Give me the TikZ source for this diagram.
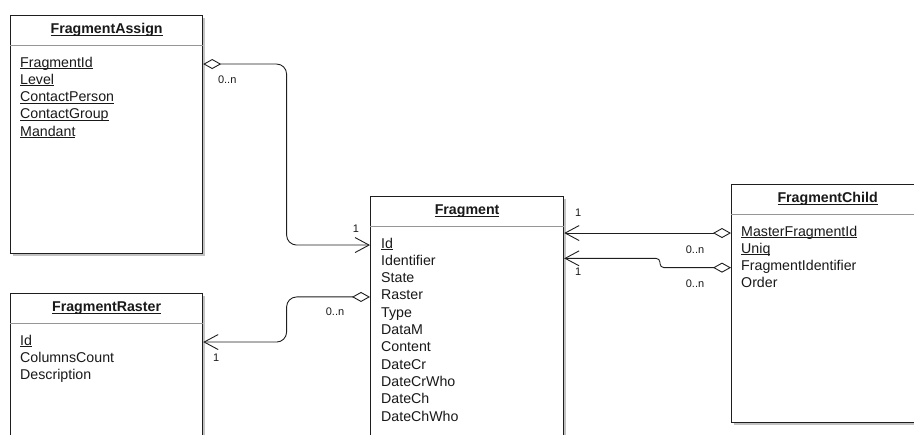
\documentclass[tikz,border=0pt]{standalone}
\usepackage{fontspec}
\setmainfont{Liberation Sans}
\usetikzlibrary{positioning,arrows.meta,calc,shadows}
\definecolor{BoxLine}{RGB}{30,30,30}
\definecolor{SepGray}{RGB}{150,150,150}
\definecolor{TextDark}{RGB}{25,25,25}
\newcommand\keyline[1]{\setbox0\hbox{#1}\rlap{\rule[-1.8pt]{\wd0}{0.75pt}}\box0}
\tikzset{
  entity/.style={draw=BoxLine,line width=1.2pt,fill=white,anchor=north west,inner sep=0pt,
    drop shadow={shadow xshift=2.5pt,shadow yshift=-2.5pt,fill=black!40,opacity=0.6}},
  classname/.style={minimum height=30pt,inner sep=0pt,text=TextDark,
    font=\fontsize{14.2}{17}\selectfont\bfseries},
  sepline/.style={draw=SepGray,line width=0.8pt},
  attr/.style={inner sep=0pt,text height=11.5pt,text depth=5.4pt,text=TextDark,
    font=\fontsize{14.2}{17}\selectfont},
  nextattr/.style={attr,below=0pt of #1.south west,anchor=north west},
  aggr/.style={{Diamond[open,length=18pt,width=10pt]}-{Straight Barb[length=14pt,width=15pt]},
    line width=0.9pt,draw=BoxLine,rounded corners=10pt},
  mult/.style={inner sep=0pt,text=TextDark,font=\fontsize{11}{13}\selectfont}
}
\begin{document}
\begin{tikzpicture}[x=1pt,y=-1pt]
  \useasboundingbox (0,0) rectangle (914,435);
  \clip (0,0) rectangle (914,435);

  % FragmentAssign
  \node[entity,minimum width=192pt,minimum height=238pt] (assign) at (10,15) {};
  \node[classname,below=0pt of assign.north] (assignName) {\keyline{FragmentAssign}};
  \coordinate (assignSep) at (assignName.south -| assign.west);
  \draw[sepline] (assignSep) -- (assignSep -| assign.east);
  \node[attr,below right=10pt and 10pt of assignSep] (assignFid) {\keyline{FragmentId}};
  \node[nextattr=assignFid] (assignLevel) {\keyline{Level}};
  \node[nextattr=assignLevel] (assignPerson) {\keyline{ContactPerson}};
  \node[nextattr=assignPerson] (assignGroup) {\keyline{ContactGroup}};
  \node[nextattr=assignGroup] (assignMandant) {\keyline{Mandant}};

  % FragmentRaster
  \node[entity,minimum width=192pt,minimum height=170pt] (raster) at (10,293) {};
  \node[classname,below=0pt of raster.north] (rasterName) {\keyline{FragmentRaster}};
  \coordinate (rasterSep) at (rasterName.south -| raster.west);
  \draw[sepline] (rasterSep) -- (rasterSep -| raster.east);
  \node[attr,below right=10pt and 10pt of rasterSep] (rasterId) {\keyline{Id}};
  \node[nextattr=rasterId] (rasterCols) {ColumnsCount};
  \node[nextattr=rasterCols] (rasterDesc) {Description};

  % Fragment
  \node[entity,minimum width=193pt,minimum height=264pt] (frag) at (370,196) {};
  \node[classname,below=0pt of frag.north] (fragName) {\keyline{Fragment}};
  \coordinate (fragSep) at (fragName.south -| frag.west);
  \draw[sepline] (fragSep) -- (fragSep -| frag.east);
  \node[attr,below right=10pt and 11pt of fragSep] (fragId) {\keyline{Id}};
  \node[nextattr=fragId] (fragIdent) {Identifier};
  \node[nextattr=fragIdent] (fragState) {State};
  \node[nextattr=fragState] (fragRaster) {Raster};
  \node[nextattr=fragRaster] (fragType) {Type};
  \node[nextattr=fragType] (fragDataM) {DataM};
  \node[nextattr=fragDataM] (fragContent) {Content};
  \node[nextattr=fragContent] (fragDateCr) {DateCr};
  \node[nextattr=fragDateCr] (fragDateCrWho) {DateCrWho};
  \node[nextattr=fragDateCrWho] (fragDateCh) {DateCh};
  \node[nextattr=fragDateCh] (fragDateChWho) {DateChWho};

  % FragmentChild
  \node[entity,minimum width=192pt,minimum height=238pt] (child) at (731,184) {};
  \node[classname,below=0pt of child.north] (childName) {\keyline{FragmentChild}};
  \coordinate (childSep) at (childName.south -| child.west);
  \draw[sepline] (childSep) -- (childSep -| child.east);
  \node[attr,below right=10pt and 10pt of childSep] (childMaster) {\keyline{MasterFragmentId}};
  \node[nextattr=childMaster] (childUniq) {\keyline{Uniq}};
  \node[nextattr=childUniq] (childFid) {FragmentIdentifier};
  \node[nextattr=childFid] (childOrder) {Order};

  % associations
  \coordinate (bendA) at ($(assign.east)!0.5!(frag.west)$);
  \coordinate (bendR) at ($(raster.east)!0.5!(frag.west)$);
  \coordinate (stepC) at (660,0);
  \path (frag.east |- fragIdent) ++(0,-4) coordinate (identIn);

  \draw[aggr] (assign.east |- assignFid) -| node[mult,at start,xshift=24pt,yshift=-16pt] {0..n} (bendA |- fragId)
    -- node[mult,at end,xshift=-14pt,yshift=16pt] {1} (frag.west |- fragId);
  \draw[aggr] (frag.west |- fragRaster) -| node[mult,at start,xshift=-35pt,yshift=-15pt] {0..n} (bendR |- rasterId)
    -- node[mult,at end,xshift=13pt,yshift=-16pt] {1} (raster.east |- rasterId);
  \draw[aggr] (child.west |- childMaster) -- node[mult,at start,xshift=-36pt,yshift=-17pt] {0..n}
    node[mult,at end,xshift=14pt,yshift=20pt] {1} (frag.east |- childMaster);
  \draw[aggr,rounded corners=4pt] (child.west |- childFid) -| node[mult,at start,xshift=-36pt,yshift=-16pt] {0..n} (stepC |- identIn)
    -- node[mult,at end,xshift=14pt,yshift=-13pt] {1} (identIn);
\end{tikzpicture}
\end{document}
